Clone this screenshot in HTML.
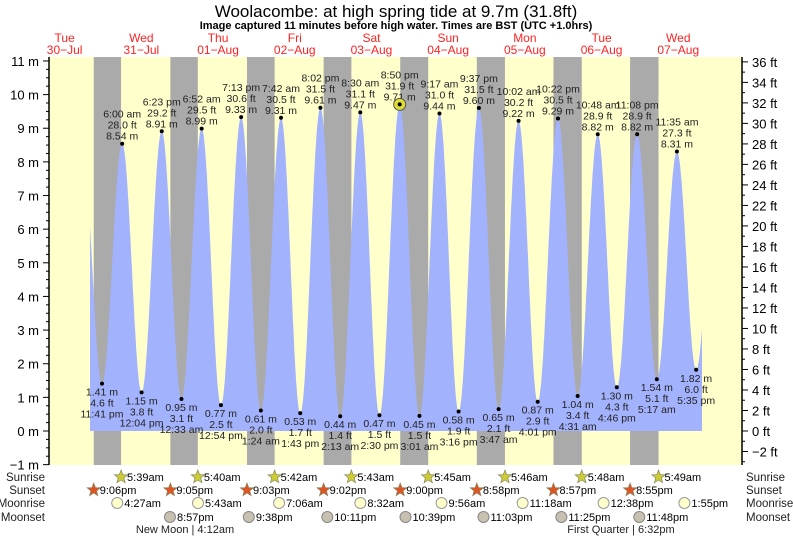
<!DOCTYPE html>
<html><head><meta charset="utf-8"><style>
body{margin:0;background:#fff;}
svg{display:block;font-family:"Liberation Sans",sans-serif;}
</style></head><body>
<svg id="s" width="793" height="539" xmlns="http://www.w3.org/2000/svg"></svg>
<script>
const S=document.getElementById('s');let o='';
const X=h=>103+h*3.196, Y=m=>431-m*33.64;
const L=49,R=742,T=57,B=465;
o+=`<rect x="${L}" y="${T}" width="${R-L}" height="${B-T}" fill="#ffffcc"/>`;
const sr=[5+39/60,5+40/60,5+42/60,5+43/60,5+45/60,5+46/60,5+48/60,5+49/60];
const ss=[21.1,21+5/60,21+3/60,21+2/60,21,20+58/60,20+57/60,20+55/60];
for(let i=0;i<8;i++){const a=X(ss[i]+(i-1)*24),b=X(sr[i]+i*24);o+=`<rect x="${Math.max(a,L)}" y="${T}" width="${b-Math.max(a,L)}" height="${B-T}" fill="#aaaaaa"/>`;}
const td=[[-0.317,1.41,'11:41 pm'],[6,8.54,'6:00 am'],[12.07,1.15,'12:04 pm'],[18.38,8.91,'6:23 pm'],[24.55,.95,'12:33 am'],[30.87,8.99,'6:52 am'],[36.9,.77,'12:54 pm'],[43.22,9.33,'7:13 pm'],[49.4,.61,'1:24 am'],[55.7,9.31,'7:42 am'],[61.72,.53,'1:43 pm'],[68.03,9.61,'8:02 pm'],[74.22,.44,'2:13 am'],[80.5,9.47,'8:30 am'],[86.5,.47,'2:30 pm'],[92.83,9.71,'8:50 pm'],[99.02,.45,'3:01 am'],[105.28,9.44,'9:17 am'],[111.27,.58,'3:16 pm'],[117.62,9.60,'9:37 pm'],[123.78,.65,'3:47 am'],[130.03,9.22,'10:02 am'],[136.02,.87,'4:01 pm'],[142.37,9.29,'10:22 pm'],[148.52,1.04,'4:31 am'],[154.8,8.82,'10:48 am'],[160.77,1.30,'4:46 pm'],[167.13,8.82,'11:08 pm'],[173.28,1.54,'5:17 am'],[179.58,8.31,'11:35 am'],[185.58,1.82,'5:35 pm']];
const ext=[[-6.4,8.3],...td,[191.9,8.0]];
function lv(h){for(let i=0;i<ext.length-1;i++){const[a,ma]=ext[i],[b,mb]=ext[i+1];if(h>=a&&h<=b){const f=(1-Math.cos(Math.PI*(h-a)/(b-a)))/2;return ma+(mb-ma)*f;}}return 0;}
const h0=(90-103)/3.196,h1=(702-103)/3.196;
let p=`M90,${Y(0)}`;for(let h=h0;h<=h1;h+=0.1)p+=` L${X(h).toFixed(1)},${Y(lv(h)).toFixed(1)}`;
p+=` L${X(h1)},${Y(lv(h1))} L702,${Y(0)} Z`;
o+=`<path d="${p}" fill="#a3b2fc"/>`;
o+=`<line x1="${L}" y1="${T}" x2="${L}" y2="${B}" stroke="#000" stroke-width="1.5"/><line x1="${R}" y1="${T}" x2="${R}" y2="${B}" stroke="#000" stroke-width="1.5"/>`;
for(let m=-1;m<=11;m++){o+=`<line x1="${L-6}" y1="${Y(m)}" x2="${L}" y2="${Y(m)}" stroke="#000"/><text x="${L-10}" y="${Y(m)+5}" font-size="13" text-anchor="end">${m<0?'−1':m} m</text>`;
 for(let k=1;k<4&&m<11;k++)o+=`<line x1="${L-3}" y1="${Y(m+k/4)}" x2="${L}" y2="${Y(m+k/4)}" stroke="#000"/>`;}
for(let f=-3;f<=36;f++){const y=Y(f*.3048);if(y<T)continue;o+=`<line x1="${R}" y1="${y}" x2="${R+(f%2?3:6)}" y2="${y}" stroke="#000"/>`;if(f%2==0)o+=`<text x="${R+10}" y="${y+5}" font-size="13">${f<0?'−'+(-f):f} ft</text>`;}
td.forEach(([h,m,t],i)=>{const x=X(h),y=Y(m),ft=(m/.3048).toFixed(1);
 o+=`<circle cx="${x}" cy="${y}" r="2" fill="#000"/>`;
 if(m>5)o+=`<text font-size="10.5" text-anchor="middle" fill="#222"><tspan x="${x}" y="${y-26}">${t}</tspan><tspan x="${x}" y="${y-15}">${ft} ft</tspan><tspan x="${x}" y="${y-4}">${m.toFixed(2)} m</tspan></text>`;
 else o+=`<text font-size="10.5" text-anchor="middle" fill="#222"><tspan x="${x}" y="${y+12}">${m.toFixed(2)} m</tspan><tspan x="${x}" y="${y+23}">${ft} ft</tspan><tspan x="${x}" y="${y+34}">${t}</tspan></text>`;});
o+=`<circle cx="${X(92.83)}" cy="${Y(9.71)}" r="6" fill="#dddd33" stroke="#555" stroke-width="1"/><circle cx="${X(92.83)}" cy="${Y(9.71)}" r="2" fill="#000"/>`;
o+=`<text x="396" y="17" font-size="17" text-anchor="middle">Woolacombe: at high  spring tide at 9.7m (31.8ft)</text>`;
o+=`<text x="396" y="29" font-size="11" font-weight="bold" text-anchor="middle">Image captured 11 minutes before high water. Times are BST (UTC +1.0hrs)</text>`;
const dn=[['Tue','30−Jul'],['Wed','31−Jul'],['Thu','01−Aug'],['Fri','02−Aug'],['Sat','03−Aug'],['Sun','04−Aug'],['Mon','05−Aug'],['Tue','06−Aug'],['Wed','07−Aug']];
dn.forEach(([a,b],i)=>{const x=X(12+(i-1)*24);o+=`<text font-size="12" fill="#ff2222" text-anchor="middle"><tspan x="${x}" y="42">${a}</tspan><tspan x="${x}" y="54">${b}</tspan></text>`;});
const rows=['Sunrise','Sunset','Moonrise','Moonset'],ry=[477,490,503,517];
rows.forEach((r,i)=>{o+=`<text x="45" y="${ry[i]+4}" font-size="11.5" text-anchor="end" fill="#222">${r}</text><text x="746" y="${ry[i]+4}" font-size="11.5" fill="#222">${r}</text>`;});
function star(x,y,c){let d='';for(let k=0;k<10;k++){const r=k%2?3:7,a=-Math.PI/2+k*Math.PI/5;d+=(k?'L':'M')+(x+r*Math.cos(a)).toFixed(1)+','+(y+r*Math.sin(a)).toFixed(1);}return `<path d="${d}Z" fill="${c}" stroke="#886" stroke-width=".7"/>`;}
const srT=['5:39am','5:40am','5:42am','5:43am','5:45am','5:46am','5:48am','5:49am'],ssT=['9:06pm','9:05pm','9:03pm','9:02pm','9:00pm','8:58pm','8:57pm','8:55pm'];
for(let i=0;i<8;i++){let x=X(sr[i]+i*24);o+=star(x,ry[0],'#cccc33')+`<text x="${x+6}" y="${ry[0]+4}" font-size="11">${srT[i]}</text>`;
 x=X(ss[i]+(i-1)*24);o+=star(x,ry[1],'#dd5522')+`<text x="${x+6}" y="${ry[1]+4}" font-size="11">${ssT[i]}</text>`;}
const mr=[[4.45,'4:27am'],[29.72,'5:43am'],[55.1,'7:06am'],[80.53,'8:32am'],[105.93,'9:56am'],[131.3,'11:18am'],[156.63,'12:38pm'],[181.92,'1:55pm']];
mr.forEach(([h,t])=>{const x=X(h);o+=`<circle cx="${x}" cy="${ry[2]}" r="5.5" fill="#ffffcc" stroke="#999"/><text x="${x+7}" y="${ry[2]+4}" font-size="11">${t}</text>`;});
const ms=[[20.95,'8:57pm'],[45.63,'9:38pm'],[70.18,'10:11pm'],[94.65,'10:39pm'],[119.05,'11:03pm'],[143.42,'11:25pm'],[167.8,'11:48pm']];
ms.forEach(([h,t])=>{const x=X(h);o+=`<circle cx="${x}" cy="${ry[3]}" r="5.5" fill="#c8c0b0" stroke="#888"/><text x="${x+7}" y="${ry[3]+4}" font-size="11">${t}</text>`;});
o+=`<text x="185" y="533" font-size="11" text-anchor="middle" fill="#222">New Moon | 4:12am</text><text x="621" y="533" font-size="11" text-anchor="middle" fill="#222">First Quarter | 6:32pm</text>`;
S.innerHTML=o;
</script>
</body></html>
